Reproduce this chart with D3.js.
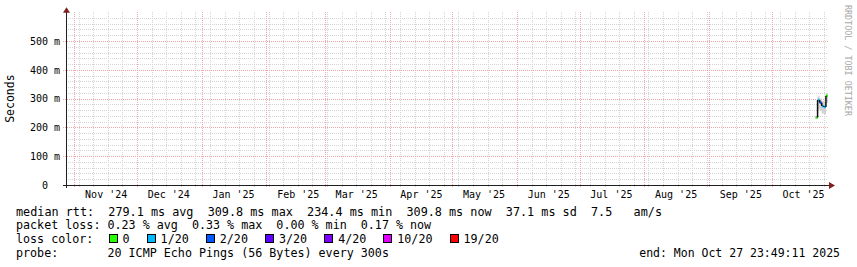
<!DOCTYPE html>
<html>
<head>
<meta charset="utf-8">
<script src="https://cdn.jsdelivr.net/npm/d3@7"></script>
<style>
  body { margin: 0; background: #fff; }
  text { font-family: "DejaVu Sans Mono", monospace; fill: #000; white-space: pre; }
</style>
</head>
<body>
<div id="chart-area"></div>
<script>

// Data
var pingDays   = ["2025-10-22", "2025-10-23", "2025-10-24", "2025-10-25", "2025-10-26", "2025-10-27"];
var medianMs   = [234.4, 295, 286, 274, 271, 309.8];
var lossLevel  = [0, 1, 2, 1, 1, 0];           // index into lossColors
var smokeLowMs = [229, 262, 258, 248, 246, 284];
var smokeHiMs  = [240, 308, 300, 292, 290, 318];

var yTicks = [0, 100, 200, 300, 400, 500];
var lossLabels = ["0", "1/20", "2/20", "3/20", "4/20", "10/20", "19/20"];
var lossColors = ["#26ff00", "#00b8ff", "#0059ff", "#5e00ff", "#7e00ff", "#dd00ff", "#ff0000"];

var legendRtt  = "median rtt:  279.1 ms avg  309.8 ms max  234.4 ms min  309.8 ms now  37.1 ms sd  7.5   am/s";
var legendLoss = "packet loss: 0.23 % avg  0.33 % max  0.00 % min  0.17 % now";
var legendProbe = "probe:       20 ICMP Echo Pings (56 Bytes) every 300s";
var legendEnd  = "end: Mon Oct 27 23:49:11 2025";

var startTime = new Date(2024, 9, 27, 23, 49, 11);
var endTime   = new Date(2025, 9, 27, 23, 49, 11);

// SVG drawing area
var W = 857, H = 267;
var plot = {left: 66, right: 828, top: 12.2, bottom: 185};

var svg = d3.select("#chart-area").append("svg")
    .attr("width", W)
    .attr("height", H);

svg.append("rect").attr("width", W).attr("height", H).attr("fill", "#fff");

var parseDay = d3.timeParse("%Y-%m-%d");
var fmtMonth = d3.timeFormat("%b '%y");

// Scales
var x = d3.scaleTime()
    .domain([startTime, endTime])
    .range([plot.left, plot.right]);

var y = d3.scaleLinear()
    .domain([0, 0.6])
    .range([plot.bottom, plot.top]);

var minorCol = "#d4d4d4", majorCol = "#f0a8a8";
var grid = svg.append("g").attr("shape-rendering", "crispEdges");

// minor grid (weeks / 20 m)
var weeks = d3.timeSunday.range(startTime, endTime);
grid.selectAll(".vminor").data(weeks).enter().append("line")
    .attr("x1", function(d) { return Math.round(x(d)) + 0.5; })
    .attr("x2", function(d) { return Math.round(x(d)) + 0.5; })
    .attr("y1", plot.top).attr("y2", plot.bottom + 3)
    .attr("stroke", minorCol).attr("stroke-dasharray", "1,1");

grid.selectAll(".hminor").data(d3.range(20, 600, 20).filter(function(v) { return v % 100 != 0; }))
    .enter().append("line")
    .attr("x1", plot.left).attr("x2", plot.right)
    .attr("y1", function(d) { return Math.round(y(d / 1000)) + 0.5; })
    .attr("y2", function(d) { return Math.round(y(d / 1000)) + 0.5; })
    .attr("stroke", minorCol).attr("stroke-dasharray", "1,1");

// major grid (months / 100 m)
var months = d3.timeMonth.range(startTime, endTime);
grid.selectAll(".vmajor").data(months).enter().append("line")
    .attr("x1", function(d) { return Math.round(x(d)) + 0.5; })
    .attr("x2", function(d) { return Math.round(x(d)) + 0.5; })
    .attr("y1", plot.top).attr("y2", plot.bottom + 3)
    .attr("stroke", majorCol).attr("stroke-dasharray", "1,1");

grid.selectAll(".hmajor").data(yTicks.slice(1)).enter().append("line")
    .attr("x1", plot.left - 3).attr("x2", plot.right)
    .attr("y1", function(d) { return Math.round(y(d / 1000)) + 0.5; })
    .attr("y2", function(d) { return Math.round(y(d / 1000)) + 0.5; })
    .attr("stroke", majorCol).attr("stroke-dasharray", "1,1");

// Data
var pings = pingDays.map(function(d, i) {
    var t0 = parseDay(d);
    var t1 = d3.timeDay.offset(t0, 1);
    if (t1 > endTime) t1 = endTime;
    return {t0: t0, t1: t1, med: medianMs[i] / 1000, loss: lossLevel[i],
            lo: smokeLowMs[i] / 1000, hi: smokeHiMs[i] / 1000};
});

// smoke
svg.selectAll(".smoke").data(pings).enter().append("rect")
    .attr("x", function(d) { return x(d.t0); })
    .attr("width", function(d) { return x(d.t1) - x(d.t0); })
    .attr("y", function(d) { return y(d.hi); })
    .attr("height", function(d) { return y(d.lo) - y(d.hi); })
    .attr("fill", "#cfcfcf");

var steps = svg.append("g");

// median, coloured by loss
steps.selectAll(".med").data(pings).enter().append("line")
    .attr("x1", function(d) { return x(d.t0); })
    .attr("x2", function(d) { return x(d.t1); })
    .attr("y1", function(d) { return y(d.med); })
    .attr("y2", function(d) { return y(d.med); })
    .attr("stroke", function(d) { return lossColors[d.loss]; })
    .attr("stroke-width", 2.5);

// connectors between days
pings.forEach(function(d, i) {
    if (i == 0) return;
    var p = pings[i - 1];
    steps.append("line")
        .attr("x1", x(d.t0)).attr("x2", x(d.t0))
        .attr("y1", y(p.med)).attr("y2", y(d.med))
        .attr("stroke", "#111").attr("stroke-width", 1.5);
});

// Axes
var yAxis = d3.axisLeft(y)
    .tickValues(yTicks.map(function(v) { return v / 1000; }))
    .tickSize(0).tickPadding(0)
    .tickFormat(function(v) { return v == 0 ? "0  " : Math.round(v * 1000) + " m"; });

svg.append("g")
    .attr("transform", "translate(" + (plot.left - 6) + ",0)")
    .call(yAxis)
    .call(function(g) { g.select(".domain").remove(); })
    .selectAll("text")
    .attr("font-family", "DejaVu Sans Mono").attr("font-size", 10)
    .attr("fill", "#000");

var midMonths = months.map(function(m) { return d3.timeDay.offset(m, 15); })
    .filter(function(m) { return m < endTime; });

var xAxis = d3.axisBottom(x)
    .tickValues(midMonths)
    .tickSize(0).tickPadding(0)
    .tickFormat(fmtMonth);

svg.append("g")
    .attr("transform", "translate(0," + (plot.bottom + 6) + ")")
    .call(xAxis)
    .call(function(g) { g.select(".domain").remove(); })
    .selectAll("text")
    .attr("font-family", "DejaVu Sans Mono").attr("font-size", 10)
    .attr("fill", "#000");

// axis lines + arrows
var axisCol = "#1f1f1f", arrowCol = "#801f1f";
svg.append("line")
    .attr("x1", plot.left - 3).attr("x2", plot.right + 2)
    .attr("y1", plot.bottom + 0.5).attr("y2", plot.bottom + 0.5)
    .attr("stroke", axisCol).attr("shape-rendering", "crispEdges");
svg.append("line")
    .attr("x1", plot.left + 0.5).attr("x2", plot.left + 0.5)
    .attr("y1", plot.bottom + 3).attr("y2", plot.top - 3)
    .attr("stroke", axisCol).attr("shape-rendering", "crispEdges");
svg.append("path")
    .attr("d", "M" + (plot.right + 1) + "," + (plot.bottom - 3) + "L" + (plot.right + 7) + "," + (plot.bottom + 0.5) + "L" + (plot.right + 1) + "," + (plot.bottom + 4) + "Z")
    .attr("fill", arrowCol);
svg.append("path")
    .attr("d", "M" + (plot.left - 3) + "," + (plot.top + 0.5) + "L" + (plot.left + 0.5) + "," + (plot.top - 5) + "L" + (plot.left + 4) + "," + (plot.top + 0.5) + "Z")
    .attr("fill", arrowCol);

// y label
svg.append("text")
    .attr("transform", "translate(14," + ((plot.top + plot.bottom) / 2) + ") rotate(-90)")
    .attr("text-anchor", "middle")
    .attr("font-size", 11.5)
    .text("Seconds");

// watermark
svg.append("text")
    .attr("transform", "translate(845,5) rotate(90)")
    .attr("font-size", 8.4)
    .style("fill", "#a8a8a8")
    .text("RRDTOOL / TOBI OETIKER");

// Legend
var lg = {left: 16, fs: 11.7, cw: 11.7 * 0.602};
var rows = [215.5, 229, 243, 256.5];

svg.append("text").attr("x", lg.left).attr("y", rows[0]).attr("font-size", 11.8)
    .attr("textLength", 646).text(legendRtt);
svg.append("text").attr("x", lg.left).attr("y", rows[1]).attr("font-size", lg.fs).text(legendLoss);
svg.append("text").attr("x", lg.left).attr("y", rows[2]).attr("font-size", lg.fs).text("loss color:");
svg.append("text").attr("x", lg.left).attr("y", rows[3]).attr("font-size", lg.fs).text(legendProbe);
svg.append("text").attr("x", 840).attr("y", rows[3]).attr("font-size", 11.5)
    .attr("text-anchor", "end").text(legendEnd);

var cursor = lg.left + 13 * lg.cw;
lossLabels.forEach(function(lab, i) {
    svg.append("rect")
        .attr("x", cursor + 1.5).attr("y", rows[2] - 8.5)
        .attr("width", 8).attr("height", 8)
        .attr("fill", lossColors[i]).attr("stroke", "#000")
        .attr("shape-rendering", "crispEdges");
    svg.append("text")
        .attr("x", cursor + 15).attr("y", rows[2])
        .attr("font-size", lg.fs).text(lab);
    cursor += 15 + lab.length * lg.cw + 16;
});

</script>
</body>
</html>
